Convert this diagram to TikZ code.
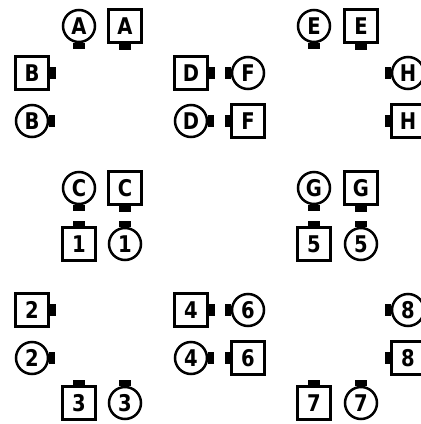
\documentclass[tikz,border=0pt]{standalone}
\usepackage{fontspec}
\setmainfont{DejaVu Sans}
\usepackage{graphicx}
\newcommand\nm[1]{\scalebox{0.85}[1]{#1}}
\newcommand\tbS[1]{\fill ([xshift=-6pt]#1.south) rectangle ([xshift=6pt,yshift=-5.5pt]#1.south);}
\newcommand\tbN[1]{\fill ([xshift=-6pt]#1.north) rectangle ([xshift=6pt,yshift=5.5pt]#1.north);}
\newcommand\tbE[1]{\fill ([yshift=-6pt]#1.east) rectangle ([xshift=5.5pt,yshift=6pt]#1.east);}
\newcommand\tbW[1]{\fill ([yshift=-6pt]#1.west) rectangle ([xshift=-5.5pt,yshift=6pt]#1.west);}
\begin{document}
\begin{tikzpicture}[x=1pt,y=-1pt,
  sqbox/.style={draw, line width=3pt, minimum size=33pt, inner sep=0pt,
    font=\fontsize{23}{23}\selectfont\bfseries},
  cbox/.style={draw, circle, line width=2.5pt, minimum size=32pt, inner sep=0pt,
    font=\fontsize{23}{23}\selectfont\bfseries}]
\useasboundingbox[fill=white] (0,0) rectangle (421,424);
% row A
\node[cbox] (cA) at (79,26) {\nm{A}}; \tbS{cA}
\node[sqbox] (sA) at (125,26) {\nm{A}}; \tbS{sA}
\node[cbox] (cE) at (314,26) {\nm{E}}; \tbS{cE}
\node[sqbox] (sE) at (361,26) {\nm{E}}; \tbS{sE}
% row B square
\node[sqbox] (sB) at (32,73) {\nm{B}}; \tbE{sB}
\node[sqbox] (sD) at (191,73) {\nm{D}}; \tbE{sD}
\node[cbox] (cF) at (248,73) {\nm{F}}; \tbW{cF}
\node[cbox] (cH) at (408,73) {\nm{H}}; \tbW{cH}
% row B circle
\node[cbox] (cB) at (32,121) {\nm{B}}; \tbE{cB}
\node[cbox] (cD) at (191,121) {\nm{D}}; \tbE{cD}
\node[sqbox] (sF) at (248,121) {\nm{F}}; \tbW{sF}
\node[sqbox] (sH) at (408,121) {\nm{H}}; \tbW{sH}
% row C
\node[cbox] (cC) at (79,188) {\nm{C}}; \tbS{cC}
\node[sqbox] (sC) at (125,188) {\nm{C}}; \tbS{sC}
\node[cbox] (cG) at (314,188) {\nm{G}}; \tbS{cG}
\node[sqbox] (sG) at (361,188) {\nm{G}}; \tbS{sG}
% row 1
\node[sqbox] (s1) at (79,244) {\nm{1}}; \tbN{s1}
\node[cbox] (c1) at (125,244) {\nm{1}}; \tbN{c1}
\node[sqbox] (s5) at (314,244) {\nm{5}}; \tbN{s5}
\node[cbox] (c5) at (361,244) {\nm{5}}; \tbN{c5}
% row 2 square
\node[sqbox] (s2) at (32,310) {\nm{2}}; \tbE{s2}
\node[sqbox] (s4) at (191,310) {\nm{4}}; \tbE{s4}
\node[cbox] (c6) at (248,310) {\nm{6}}; \tbW{c6}
\node[cbox] (c8) at (408,310) {\nm{8}}; \tbW{c8}
% row 2 circle
\node[cbox] (c2) at (32,358) {\nm{2}}; \tbE{c2}
\node[cbox] (c4) at (191,358) {\nm{4}}; \tbE{c4}
\node[sqbox] (s6) at (248,358) {\nm{6}}; \tbW{s6}
\node[sqbox] (s8) at (408,358) {\nm{8}}; \tbW{s8}
% row 3
\node[sqbox] (s3) at (79,403) {\nm{3}}; \tbN{s3}
\node[cbox] (c3) at (125,403) {\nm{3}}; \tbN{c3}
\node[sqbox] (s7) at (314,403) {\nm{7}}; \tbN{s7}
\node[cbox] (c7) at (361,403) {\nm{7}}; \tbN{c7}
\end{tikzpicture}
\end{document}
